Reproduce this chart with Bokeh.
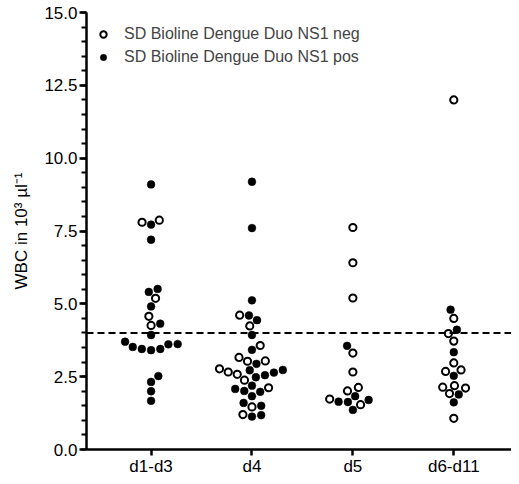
import numpy as np
from bokeh.plotting import figure
from bokeh.models import (Range1d, FixedTicker, Span, Legend, LegendItem,
                          ColumnDataSource, PrintfTickFormatter)
from bokeh.embed import file_html
from bokeh.resources import INLINE

# ---------------- data ----------------
categories = ["d1-d3", "d4", "d5", "d6-d11"]
series_names = ["SD Bioline Dengue Duo NS1 neg", "SD Bioline Dengue Duo NS1 pos"]
threshold = 4.0

neg_d1_d3 = [7.80, 7.87, 5.19, 4.57, 4.26]
pos_d1_d3 = [9.10, 7.72, 7.20, 5.41, 5.51, 4.91, 4.32, 3.93, 3.70, 3.61, 3.45,
             3.41, 3.45, 3.52, 3.62, 2.52, 2.32, 2.00, 1.67]

neg_d4 = [4.61, 4.24, 3.57, 3.04, 3.03, 3.16, 2.77, 2.58, 2.66, 2.38, 2.12,
          1.46, 1.20]
pos_d4 = [9.19, 7.60, 5.12, 4.60, 4.44, 3.93, 3.42, 2.94, 2.72, 2.64, 2.55,
          2.48, 2.73, 2.01, 1.98, 2.08, 2.19, 1.83, 1.60, 1.50, 1.13, 1.18]

neg_d5 = [7.62, 6.41, 5.20, 3.31, 2.66, 2.01, 2.13, 1.54, 1.73]
pos_d5 = [3.56, 1.83, 1.70, 1.63, 1.64, 1.36]

neg_d6_d11 = [12.0, 4.50, 3.98, 3.72, 2.97, 2.68, 2.73, 2.19, 2.11, 2.14, 1.92,
              1.07]
pos_d6_d11 = [4.80, 4.11, 3.34, 2.53, 1.89, 1.62]

neg_values = [neg_d1_d3, neg_d4, neg_d5, neg_d6_d11]
pos_values = [pos_d1_d3, pos_d4, pos_d5, pos_d6_d11]

# ---------------- layout constants ----------------
FRAME_W, FRAME_H = 425, 437
X_START = 0.36
X_END = X_START + FRAME_W / 100.9
Y_START, Y_END = 0.0, 15.0
PX_X = FRAME_W / (X_END - X_START)
PX_Y = FRAME_H / (Y_END - Y_START)
DIAM = 9.3


def swarm_offsets(vals):
    """Compact beeswarm: each point goes to the free x position nearest the centre."""
    vals = np.asarray(vals, dtype=float)
    offs = np.zeros(len(vals))
    placed = []
    side = 1.0
    for i in np.argsort(vals, kind="stable"):
        yp = vals[i] * PX_Y
        cands = [0.0]
        for px, py in placed:
            dy = abs(yp - py)
            if dy < DIAM:
                dx = np.sqrt(DIAM ** 2 - dy ** 2) + 0.01
                cands += [px + dx, px - dx]
        cands = sorted(set(round(c, 4) for c in cands),
                       key=lambda c: (round(abs(c), 2), -side * np.sign(c)))
        for c in cands:
            if all((c - px) ** 2 + (yp - py) ** 2 >= DIAM ** 2 - 1e-6
                   for px, py in placed):
                offs[i] = c
                placed.append((c, yp))
                if c != 0:
                    side = -np.sign(c)
                break
    return offs / PX_X


xs_neg, ys_neg, xs_pos, ys_pos = [], [], [], []
for ci, (nv, pv) in enumerate(zip(neg_values, pos_values)):
    allv = list(nv) + list(pv)
    off = swarm_offsets(allv)
    center = ci + 1
    for j, v in enumerate(allv):
        if j < len(nv):
            xs_neg.append(center + off[j]); ys_neg.append(v)
        else:
            xs_pos.append(center + off[j]); ys_pos.append(v)

src_neg = ColumnDataSource(dict(x=xs_neg, y=ys_neg))
src_pos = ColumnDataSource(dict(x=xs_pos, y=ys_pos))

FONT = "Liberation Sans"

p = figure(frame_width=FRAME_W, frame_height=FRAME_H,
           x_range=Range1d(X_START, X_END), y_range=Range1d(Y_START, Y_END),
           output_backend="svg", toolbar_location=None,
           min_border_left=86, min_border_right=0, min_border_top=12,
           min_border_bottom=27)
p.outline_line_color = None
p.xgrid.visible = False
p.ygrid.visible = False
p.background_fill_color = "white"

thr = Span(location=threshold, dimension="width", line_color="black",
           line_width=2, line_dash="7 4")
p.add_layout(thr)

r_neg = p.scatter("x", "y", source=src_neg, marker="circle", size=7.2,
                  fill_color="white", line_color="black", line_width=2)
r_pos = p.scatter("x", "y", source=src_pos, marker="circle", size=7.8,
                  fill_color="black", line_color="black", line_width=0.5)

# axes
p.xaxis.ticker = FixedTicker(ticks=[1, 2, 3, 4])
p.xaxis.major_label_overrides = {i + 1: c for i, c in enumerate(categories)}
p.xaxis.minor_tick_line_color = None
p.xaxis.major_tick_in = 0
p.xaxis.major_tick_out = 6
p.xaxis.major_label_standoff = 1

p.yaxis.ticker = FixedTicker(ticks=[0, 2.5, 5, 7.5, 10, 12.5, 15],
                             minor_ticks=list(np.arange(0, 15.01, 0.5)))
p.yaxis.formatter = PrintfTickFormatter(format="%.1f")
p.yaxis.major_tick_in = 0
p.yaxis.major_tick_out = 7
p.yaxis.minor_tick_in = 0
p.yaxis.minor_tick_out = 5
p.yaxis.major_label_standoff = 2
p.yaxis.axis_label = "WBC in 10³ µl⁻¹"
p.yaxis.axis_label_standoff = 10

for ax in (p.xaxis, p.yaxis):
    ax.axis_line_width = 2.5
    ax.axis_line_color = "black"
    ax.major_tick_line_width = 2.5
    ax.minor_tick_line_width = 2
    ax.major_tick_line_color = "black"
    ax.major_label_text_font = FONT
    ax.major_label_text_font_size = "17px"
    ax.major_label_text_color = "black"
    ax.axis_label_text_font = FONT
    ax.axis_label_text_font_size = "17px"
    ax.axis_label_text_font_style = "normal"
    ax.axis_label_text_color = "black"

legend = Legend(items=[LegendItem(label=series_names[0], renderers=[r_neg]),
                       LegendItem(label=series_names[1], renderers=[r_pos])],
                location=(2, FRAME_H - 54), margin=0, padding=0, spacing=5,
                glyph_width=30, glyph_height=16, label_height=16,
                label_standoff=6, label_text_font=FONT,
                label_text_font_size="16px", border_line_color=None,
                background_fill_alpha=0)
p.add_layout(legend)

open("out.html", "w").write(file_html(p, INLINE))
